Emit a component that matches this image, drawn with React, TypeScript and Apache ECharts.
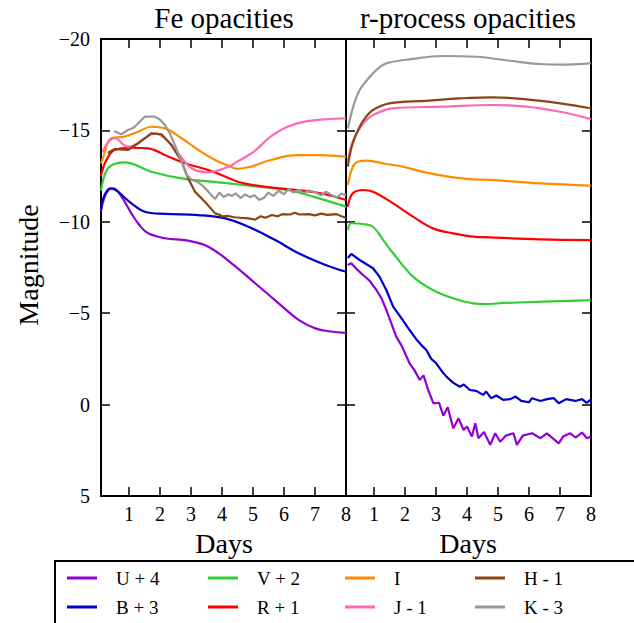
import React, { useEffect, useRef } from "react";
import * as echarts from "echarts";

const bands = ["U + 4", "B + 3", "V + 2", "R + 1", "I", "J - 1", "H - 1", "K - 3"];
const colors = ["#9400D3", "#0000CD", "#32CD32", "#FF0000", "#FF8C00", "#FF69B4", "#8B4513", "#999999"];
const xTickValues = [1, 2, 3, 4, 5, 6, 7, 8];
const yTicks = [-20, -15, -10, -5, 0, 5];

// Fe opacities (left panel) [day, magnitude]
const feU = [[0.1,-10.6],[0.2,-11.3],[0.35,-11.75],[0.5,-11.83],[0.75,-11.4],[1.08,-10.46],[1.35,-9.8],[1.62,-9.37],[2.16,-9.1],[2.91,-8.97],[3.56,-8.64],[4.31,-7.73],[5.07,-6.64],[5.83,-5.54],[6.47,-4.63],[7.01,-4.17],[7.5,-4.0],[8,-3.92]];
const feB = [[0.1,-10.65],[0.2,-11.4],[0.4,-11.83],[0.6,-11.7],[1.08,-11.01],[1.51,-10.55],[2.16,-10.43],[3.24,-10.37],[4.1,-10.19],[4.85,-9.73],[5.72,-9.0],[6.47,-8.28],[7.34,-7.64],[8,-7.27]];
const feV = [[0.1,-11.7],[0.25,-12.7],[0.45,-13.1],[0.86,-13.25],[1.72,-12.74],[2.7,-12.38],[4.21,-12.1],[5.0,-11.95],[6.11,-11.74],[7.0,-11.35],[8,-10.83]];
const feR = [[0.1,-12.5],[0.25,-13.3],[0.54,-13.93],[1.08,-14.05],[1.62,-14.02],[2.16,-13.65],[2.81,-13.2],[3.56,-12.83],[4.21,-12.4],[4.6,-12.15],[5.35,-11.92],[6.43,-11.74],[7.18,-11.56],[8,-11.19]];
const feI = [[0.1,-13.2],[0.16,-13.47],[0.43,-14.57],[0.86,-14.66],[1.3,-14.93],[1.72,-15.2],[2.16,-15.11],[2.7,-14.57],[3.24,-13.93],[3.78,-13.38],[4.21,-13.07],[4.5,-12.9],[4.92,-13.01],[5.57,-13.38],[6.43,-13.65],[7.18,-13.65],[8,-13.56]];
const feJ = [[0.15,-13.8],[0.3,-14.3],[0.54,-14.57],[0.97,-14.11],[1.18,-14.2],[1.51,-14.57],[1.83,-14.84],[2.16,-14.57],[2.59,-13.75],[3.02,-12.93],[3.56,-12.71],[4.21,-13.01],[4.49,-13.29],[5.03,-13.84],[5.57,-14.66],[6.11,-15.2],[6.75,-15.51],[8,-15.66]];
const feH = [[0.32,-13.76],[0.54,-13.98],[0.97,-13.93],[1.3,-14.29],[1.72,-14.84],[2.05,-14.79],[2.37,-14.2],[2.7,-13.29],[2.91,-12.38],[3.13,-11.65],[3.45,-11.1],[3.78,-10.46],[3.9,-10.4],[4.0,-10.3],[4.21,-10.32],[4.4,-10.25],[4.6,-10.22],[4.8,-10.2],[5.07,-10.12],[5.25,-10.3],[5.4,-10.22],[5.61,-10.37],[5.8,-10.3],[5.95,-10.42],[6.2,-10.4],[6.35,-10.5],[6.5,-10.4],[6.8,-10.42],[7.0,-10.35],[7.2,-10.45],[7.4,-10.38],[7.7,-10.42],[7.85,-10.3],[8.0,-10.22]];
const feK = [[0.52,-14.97],[0.75,-14.79],[0.97,-15.02],[1.15,-15.15],[1.3,-15.39],[1.51,-15.75],[1.83,-15.75],[2.0,-15.6],[2.16,-15.3],[2.33,-14.8],[2.48,-14.2],[2.7,-13.29],[2.85,-12.6],[3.02,-12.29],[3.2,-12.2],[3.35,-12.01],[3.56,-11.65],[3.78,-11.25],[3.92,-11.6],[4.05,-11.35],[4.2,-11.5],[4.31,-11.42],[4.45,-11.55],[4.6,-11.3],[4.75,-11.5],[4.9,-11.35],[5.05,-11.45],[5.2,-11.2],[5.35,-11.3],[5.5,-11.6],[5.65,-11.42],[5.83,-11.7],[6.0,-11.5],[6.15,-11.8],[6.3,-11.6],[6.47,-11.74],[6.65,-11.55],[6.8,-11.72],[7.01,-11.6],[7.2,-11.45],[7.35,-11.65],[7.5,-11.5],[7.7,-11.32],[7.85,-11.55],[8.0,-11.45]];

// r-process opacities (right panel) [day, magnitude]
const rpU = [[0.16,-7.64],[0.27,-7.73],[0.45,-7.4],[0.65,-7.09],[0.85,-6.8],[1.08,-6.27],[1.25,-5.8],[1.4,-5.18],[1.55,-4.5],[1.72,-3.72],[1.9,-3.2],[2.15,-2.26],[2.3,-1.9],[2.48,-1.35],[2.6,-1.6],[2.75,-0.8],[2.92,-0.07],[3.1,-0.1],[3.24,0.6],[3.38,0.15],[3.56,1.3],[3.73,0.75],[3.89,1.39],[4.0,1.2],[4.16,1.75],[4.27,1.02],[4.37,1.84],[4.55,1.5],[4.75,2.2],[4.91,1.57],[5.07,2.03],[5.25,1.7],[5.5,1.57],[5.61,2.2],[5.8,1.7],[6.1,1.57],[6.37,1.84],[6.58,1.57],[6.96,2.12],[7.1,1.75],[7.33,1.57],[7.5,1.8],[7.71,1.53],[7.87,1.84],[8.0,1.75]];
const rpB = [[0.16,-8.02],[0.27,-8.24],[0.54,-7.91],[0.97,-7.46],[1.18,-7.0],[1.4,-6.27],[1.62,-5.36],[1.94,-4.6],[2.15,-4.08],[2.4,-3.5],[2.58,-3.17],[2.69,-2.99],[2.85,-2.5],[3.01,-2.26],[3.2,-1.8],[3.34,-1.53],[3.55,-1.2],[3.77,-0.98],[3.9,-1.1],[4.09,-0.8],[4.3,-0.75],[4.52,-0.53],[4.62,-0.71],[4.78,-0.35],[4.95,-0.5],[5.17,-0.26],[5.4,-0.3],[5.57,-0.44],[5.75,-0.2],[6.0,-0.13],[6.1,-0.35],[6.37,-0.2],[6.58,-0.3],[6.8,-0.35],[6.96,-0.07],[7.2,-0.3],[7.5,-0.2],[7.71,-0.3],[7.86,-0.1],[8.0,-0.29]];
const rpV = [[0.16,-9.55],[0.27,-9.92],[0.65,-9.88],[0.97,-9.73],[1.3,-9.0],[1.62,-8.28],[2.26,-7.0],[2.9,-6.27],[3.55,-5.82],[4.2,-5.54],[4.6,-5.5],[5.2,-5.56],[5.92,-5.6],[7.0,-5.66],[8.0,-5.72]];
const rpR = [[0.16,-10.83],[0.32,-11.56],[0.65,-11.74],[0.97,-11.65],[1.62,-11.01],[2.26,-10.28],[2.9,-9.64],[3.55,-9.37],[4.2,-9.19],[4.75,-9.15],[6.37,-9.04],[8.0,-9.0]];
const rpI = [[0.16,-12.01],[0.32,-13.01],[0.5,-13.3],[0.75,-13.35],[1.4,-13.16],[1.94,-13.01],[2.69,-12.69],[3.55,-12.43],[4.2,-12.32],[4.75,-12.29],[6.37,-12.1],[8.0,-11.98]];
const rpJ = [[0.16,-13.3],[0.3,-14.3],[0.54,-15.1],[0.75,-15.55],[0.97,-15.84],[1.6,-16.21],[3.23,-16.3],[4.85,-16.39],[5.92,-16.3],[7.0,-16.02],[8.0,-15.62]];
const rpH = [[0.16,-13.02],[0.3,-14.2],[0.54,-15.2],[0.75,-15.75],[0.97,-16.12],[1.5,-16.48],[2.69,-16.62],[3.77,-16.75],[4.85,-16.81],[5.92,-16.7],[7.0,-16.48],[8.0,-16.21]];
const rpK = [[0.16,-15.11],[0.35,-16.4],[0.54,-17.21],[0.75,-17.7],[0.97,-18.12],[1.18,-18.45],[1.4,-18.67],[2.15,-18.89],[3.23,-19.07],[4.31,-19.03],[5.39,-18.81],[6.46,-18.62],[7.0,-18.6],[8.0,-18.67]];

const feData = [feU, feB, feV, feR, feI, feJ, feH, feK];
const rpData = [rpU, rpB, rpV, rpR, rpI, rpJ, rpH, rpK];
const feJagged = [false, false, false, false, false, false, true, true];
const rpJagged = [true, true, false, false, false, false, false, false];

const FONT = "Liberation Serif";

export default function App() {
  const ref = useRef<HTMLDivElement>(null);
  useEffect(() => {
    if (!ref.current) return;
    const chart = echarts.init(ref.current, null, { renderer: "svg" });
    const axisLine = { show: true, onZero: false, lineStyle: { color: "#000", width: 2 } };
    const tickStyle = { show: true, inside: true, length: 9, lineStyle: { color: "#000", width: 1.5 } };
    const mkX = (grid: number, pos: "top" | "bottom", labels: boolean) => ({
      type: "value", gridIndex: grid, position: pos, min: 0.1, max: 8,
      axisLine,
      axisTick: { ...tickStyle, customValues: xTickValues },
      axisLabel: labels
        ? { show: true, customValues: xTickValues, color: "#000", fontFamily: FONT, fontSize: 20, margin: 8 }
        : { show: false },
      splitLine: { show: false },
    });
    const mkY = (grid: number, pos: "left" | "right", labels: boolean) => ({
      type: "value", gridIndex: grid, position: pos, min: -20, max: 5, interval: 5, inverse: true,
      axisLine,
      axisTick: tickStyle,
      axisLabel: labels
        ? { show: true, color: "#000", fontFamily: FONT, fontSize: 20, margin: 11,
            formatter: (v: number) => String(v).replace("-", "\u2212") }
        : { show: false },
      splitLine: { show: false },
    });
    const series: any[] = [];
    bands.forEach((b, i) => {
      series.push({
        name: b, type: "line", xAxisIndex: 0, yAxisIndex: 0, data: feData[i],
        symbol: "none", smooth: feJagged[i] ? false : 0.4, lineStyle: { color: colors[i], width: 2.2 },
        itemStyle: { color: colors[i] },
      });
      series.push({
        name: b, type: "line", xAxisIndex: 2, yAxisIndex: 2, data: rpData[i],
        symbol: "none", smooth: rpJagged[i] ? false : 0.4, lineStyle: { color: colors[i], width: 2.2 },
        itemStyle: { color: colors[i] },
      });
    });
    const legendCols = [[bands[0], bands[1]], [bands[2], bands[3]], [bands[4], bands[5]], [bands[6], bands[7]]];
    const legendX = [67, 208, 345, 475];
    const legends = legendCols.map((d, i) => ({
      data: d, orient: "vertical", left: legendX[i], top: 568, icon: "rect",
      itemWidth: 30, itemHeight: 3, itemGap: 9, selectedMode: false, padding: 0,
      textStyle: { fontFamily: FONT, fontSize: 19, color: "#000", lineHeight: 20, padding: [0, 0, 0, 14] },
    }));
    const txt = (text: string, x: number, y: number, size: number, rot = 0) => ({
      type: "text", x, y, rotation: rot,
      style: { text, fill: "#000", font: `${size}px "${FONT}"`, textAlign: "center", textVerticalAlign: "middle" },
    });
    chart.setOption({
      animation: false,
      backgroundColor: "#fff",
      grid: [
        { left: 101, top: 39, width: 245, height: 457 },
        { left: 346, top: 39, width: 245, height: 457 },
      ],
      xAxis: [mkX(0, "bottom", true), mkX(0, "top", false), mkX(1, "bottom", true), mkX(1, "top", false)],
      yAxis: [mkY(0, "left", true), mkY(0, "right", false), mkY(1, "left", false), mkY(1, "right", false)],
      legend: legends,
      series,
      graphic: [
        txt("Fe opacities", 224, 18, 29),
        txt("r-process opacities", 468, 18, 29),
        txt("Days", 224, 543, 28),
        txt("Days", 468, 543, 28),
        txt("Magnitude", 28, 265, 28, Math.PI / 2),
        { type: "rect", shape: { x: 55, y: 561, width: 620, height: 100 },
          style: { fill: "none", stroke: "#000", lineWidth: 2 }, z: 0 },
      ],
    });
    return () => chart.dispose();
  }, []);
  return <div ref={ref} style={{ position: "fixed", left: 0, top: 0, width: 634, height: 623 }} />;
}
